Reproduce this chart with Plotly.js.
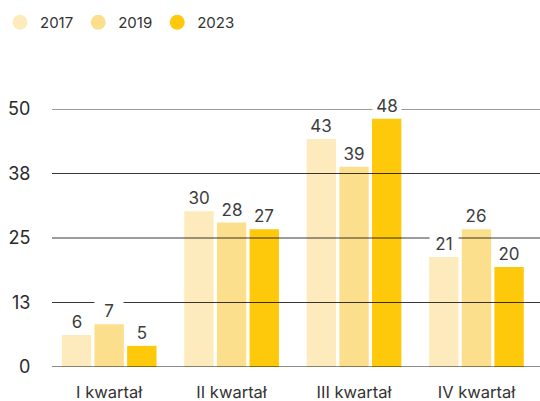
<!DOCTYPE html>
<html>
<head>
<meta charset="utf-8">
<script src="https://cdn.plot.ly/plotly-3.0.1.min.js"></script>
<style>
  html, body { margin: 0; padding: 0; background: #fff; }
  #chart { width: 540px; height: 401px; }
</style>
</head>
<body>
<div id="chart"></div>
<script>
const categories = ["I kwartał", "II kwartał", "III kwartał", "IV kwartał"];
const years = ["2017", "2019", "2023"];

const values2017 = [6.2, 30.2, 44.2, 21.3];
const values2019 = [8.3, 28.0, 38.8, 26.7];
const values2023 = [4.1, 26.7, 48.1, 19.4];

const labels2017 = ["6", "30", "43", "21"];
const labels2019 = ["7", "28", "39", "26"];
const labels2023 = ["5", "27", "48", "20"];

const colors = ["#FDEBBD", "#FCDF8D", "#FEC90A"];

const tickVals = [0, 12.5, 25, 37.5, 50];
const tickText = ["0", "13", "25", "38", "50"];

const FONT = "Inter, 'Open Sans', sans-serif";
const bargap = 0.2;
const bargroupgap = 0.1;

const series = [values2017, values2019, values2023];
const seriesLabels = [labels2017, labels2019, labels2023];

const traces = [];
series.forEach((vals, j) => {
  traces.push({
    type: "bar",
    x: categories,
    y: vals,
    name: years[j],
    marker: { color: colors[j] },
    showlegend: false,
    hoverinfo: "skip",
  });
});

// round legend markers
years.forEach((yr, j) => {
  traces.push({
    type: "scatter",
    mode: "markers",
    x: [null],
    y: [null],
    name: yr,
    marker: { color: colors[j], size: 15, symbol: "circle" },
  });
});

// value labels with white boxes, placed over each bar
const slot = (1 - bargap) / years.length;
const annotations = [];
series.forEach((vals, j) => {
  vals.forEach((v, i) => {
    annotations.push({
      x: i + (j - (years.length - 1) / 2) * slot,
      y: v,
      xref: "x",
      yref: "y",
      text: seriesLabels[j][i],
      showarrow: false,
      yanchor: "bottom",
      yshift: 1,
      bgcolor: "#ffffff",
      width: 26,
      borderpad: 1,
      font: { family: FONT, size: 17, color: "#3d3d3d" },
    });
  });
});

// gridlines drawn above the bars
const shapes = tickVals.map((t) => ({
  type: "line",
  layer: "above",
  xref: "paper",
  yref: "y",
  x0: 0,
  x1: 1,
  y0: t,
  y1: t,
  line: t === 0
    ? { color: "rgba(0,0,0,0.45)", width: 2 }
    : { color: "rgba(0,0,0,0.78)", width: 1 },
}));

const layout = {
  width: 540,
  height: 401,
  margin: { l: 52, r: 0, t: 109, b: 34 },
  paper_bgcolor: "#ffffff",
  plot_bgcolor: "#ffffff",
  font: { family: FONT, color: "#333333" },
  barmode: "group",
  bargap: bargap,
  bargroupgap: bargroupgap,
  showlegend: true,
  legend: {
    orientation: "h",
    xref: "container",
    yref: "container",
    x: -0.005,
    y: 0.985,
    xanchor: "left",
    yanchor: "top",
    font: { family: FONT, size: 15, color: "#333333" },
  },
  xaxis: {
    type: "category",
    range: [-0.467, 3.519],
    showgrid: false,
    zeroline: false,
    showline: false,
    ticks: "outside",
    ticklen: 10,
    tickcolor: "rgba(0,0,0,0)",
    tickfont: { family: FONT, size: 16.5, color: "#333333" },
    fixedrange: true,
  },
  yaxis: {
    range: [0, 50],
    tickmode: "array",
    tickvals: tickVals,
    ticktext: tickText,
    showgrid: false,
    zeroline: false,
    showline: false,
    ticks: "outside",
    ticklen: 17,
    tickcolor: "rgba(0,0,0,0)",
    tickfont: { family: FONT, size: 18, color: "#2a2a2a" },
    fixedrange: true,
  },
  annotations: annotations,
  shapes: shapes,
};

Plotly.newPlot("chart", traces, layout, { displayModeBar: false, staticPlot: true });
</script>
</body>
</html>
